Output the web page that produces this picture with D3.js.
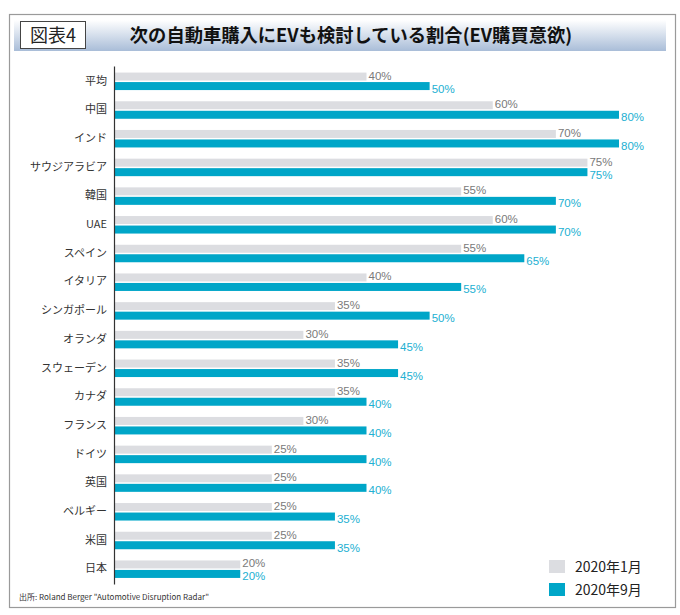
<!DOCTYPE html>
<html>
<head>
<meta charset="utf-8">
<script src="https://cdn.jsdelivr.net/npm/d3@7"></script>
<style>
html,body{margin:0;padding:0;background:#fff;}
svg{display:block;}
</style>
</head>
<body>
<svg id="chart" width="680" height="615"></svg>
<script>
const categories = ["平均","中国","インド","サウジアラビア","韓国","UAE","スペイン","イタリア","シンガポール","オランダ","スウェーデン","カナダ","フランス","ドイツ","英国","ベルギー","米国","日本"];
const jan2020 = [40,60,70,75,55,60,55,40,35,30,35,35,30,25,25,25,25,20];
const sep2020 = [50,80,80,75,70,70,65,55,50,45,45,40,40,40,40,35,35,20];
const seriesNames = ["2020年1月","2020年9月"];
const title = "次の自動車購入にEVも検討している割合(EV購買意欲)";
const figLabel = "図表4";
const source = "出所: Roland Berger \"Automotive Disruption Radar\"";

const jp = "'Noto Sans CJK JP', 'Noto Sans', sans-serif";
const num = "'Liberation Sans', Arial, sans-serif";

const svg = d3.select("#chart");
const grayColor = "#dcdde1", tealColor = "#00a6c8";

// outer frame
svg.append("rect").attr("x",9.5).attr("y",14.5).attr("width",666).attr("height",593)
  .attr("fill","#fff").attr("stroke","#9a9a9a").attr("stroke-width",1.2);

// header gradient band
const defs = svg.append("defs");
const grad = defs.append("linearGradient").attr("id","hg").attr("x1",0).attr("y1",0).attr("x2",0).attr("y2",1);
grad.append("stop").attr("offset","0%").attr("stop-color","#ffffff");
grad.append("stop").attr("offset","100%").attr("stop-color","#a9bdd8");
svg.append("rect").attr("x",14).attr("y",20).attr("width",652).attr("height",31).attr("fill","url(#hg)");

svg.append("rect").attr("x",20.5).attr("y",21.5).attr("width",65).attr("height",27)
  .attr("fill","#fff").attr("stroke","#444").attr("stroke-width",1);
svg.append("text").attr("x",53).attr("y",41.5).attr("text-anchor","middle")
  .style("font-family",jp).style("font-size","18px").attr("fill","#222").text(figLabel);
svg.append("text").attr("x",351).attr("y",42).attr("text-anchor","middle")
  .style("font-family",jp).style("font-size","18.3px").style("font-weight","bold").attr("fill","#111").text(title);

// scales
const x = d3.scaleLinear().domain([0,80]).range([114,619]);
const y = d3.scaleBand().domain(categories).range([66,584]).paddingInner(0.35).paddingOuter(0.2);
const bh = 8;

const g = svg.append("g");
categories.forEach((c,i)=>{
  const y0 = y(c) + y.bandwidth()/2;
  g.append("rect").attr("x",x(0)).attr("y",y0-bh-0.5).attr("width",x(jan2020[i])-x(0)).attr("height",bh).attr("fill",grayColor);
  g.append("rect").attr("x",x(0)).attr("y",y0+1).attr("width",x(sep2020[i])-x(0)).attr("height",bh).attr("fill",tealColor);
  g.append("text").attr("x",x(jan2020[i])+2).attr("y",y0-1.5).attr("fill","#7a7a7a")
    .style("font-family",num).style("font-size","11.5px").text(jan2020[i]+"%");
  g.append("text").attr("x",x(sep2020[i])+2).attr("y",y0+11.5).attr("fill","#22b0d2")
    .style("font-family",num).style("font-size","11.5px").text(sep2020[i]+"%");
});

// axis
const axis = d3.axisLeft(y).tickSize(0).tickPadding(7);
const ag = svg.append("g").attr("transform",`translate(${x(0)},0)`).call(axis);
ag.select(".domain").attr("stroke","#333").attr("stroke-width",1.2);
ag.selectAll("text").attr("fill","#333")
  .style("font-family",jp).style("font-size","11px");

// legend
const lg = svg.append("g");
[grayColor,tealColor].forEach((col,i)=>{
  lg.append("rect").attr("x",549).attr("y",560+i*23).attr("width",16).attr("height",13).attr("fill",col);
  lg.append("text").attr("x",575).attr("y",572+i*23).attr("fill","#222")
    .style("font-family",jp).style("font-size","14px").text(seriesNames[i]);
});

svg.append("text").attr("x",19).attr("y",600).attr("fill","#333")
  .style("font-family",jp).style("font-size","8px").text(source);
</script>
</body>
</html>
